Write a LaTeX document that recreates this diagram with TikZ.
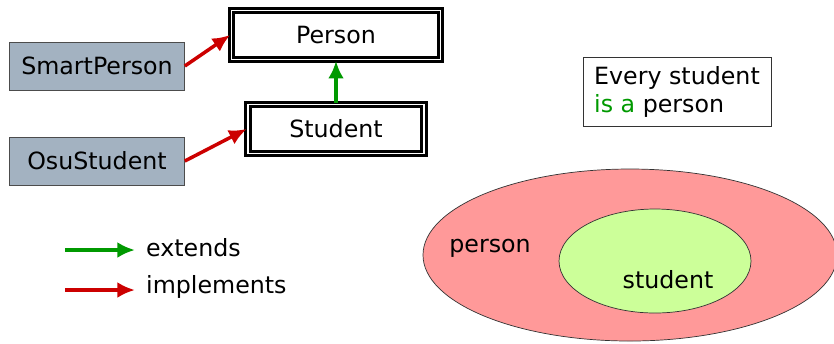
\documentclass[tikz,border=0pt]{standalone}
\usepackage{fontspec}
\setmainfont{DejaVu Sans}
\usepackage{tikz}
\usetikzlibrary{arrows,arrows.meta}
\definecolor{implred}{HTML}{CC0000}
\definecolor{extgreen}{HTML}{009900}
\definecolor{ifacegray}{HTML}{A3B2C1}
\definecolor{personred}{HTML}{FF9999}
\definecolor{studentgreen}{HTML}{CCFF99}
\tikzstyle{cls}=[draw=black,double,line width=1.6pt,double distance=1.1pt,fill=white,minimum height=0.98cm,inner sep=2pt]
\tikzstyle{iface}=[draw=black!70,fill=ifacegray,minimum width=3.5cm,minimum height=0.96cm,inner sep=2pt]
\tikzstyle{impl} = [draw=implred, line width=2pt, -{Latex[length=10pt,width=9pt]}]
\tikzstyle{ext} = [draw=extgreen, line width=2pt, -{Latex[length=10pt,width=9pt]}]

\begin{document}
\begin{tikzpicture}[x=0.02cm,y=-0.02cm,font=\fontsize{13.5}{16}\selectfont]
  \useasboundingbox (0,0) rectangle (834,343);
  % class boxes
  \node[cls,minimum width=4.18cm] (Person) at (336,35) {Person};
  \node[cls,minimum width=3.52cm] (Student) at (336,129) {Student};
  \node[iface] (SmartPerson) at (97,66) {SmartPerson};
  \node[iface] (OsuStudent) at (97,161) {OsuStudent};
  \path [impl] (SmartPerson.east) -- (Person.west);
  \path [impl] (OsuStudent.east) -- (Student.west);
  \path [ext] (Student.north) -- (Person.south);

  % legend
  \coordinate (extstart) at (65,250);
  \coordinate (extend)   at (135,250);
  \coordinate (implstart) at (65,290);
  \coordinate (implend)   at (135,290);
  \path [ext] (extstart) -- (extend);
  \path [impl] (implstart) -- (implend);
  \node[anchor=west] (extlabel) at (140,248) {extends};
  \node[anchor=west] (impllabel) at (140,287) {implements};

  % sets
  \node[draw=black!80,align=left,inner sep=4pt,minimum width=3.76cm,minimum height=1.38cm] (claim) at (677,92)
    {Every student\\{\color{extgreen}is a} person};
  \draw[black!80,fill=personred] (630,255) ellipse [x radius=207,y radius=86];
  \draw[black!80,fill=studentgreen] (655,261) ellipse [x radius=96,y radius=52];
  \node (personset) at (490,248) {person};
  \node (studentset) at (668,280) {student};
\end{tikzpicture}
\end{document}
